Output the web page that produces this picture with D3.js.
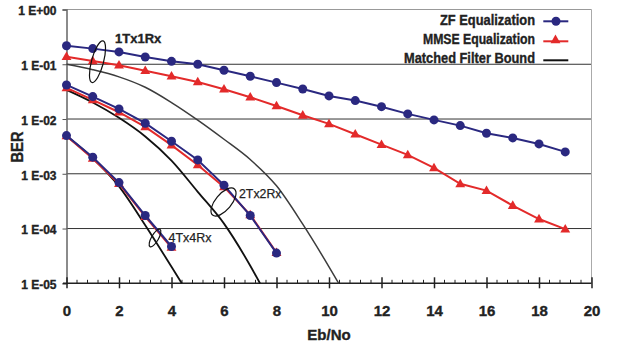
<!DOCTYPE html>
<html><head><meta charset="utf-8">
<script src="https://cdn.jsdelivr.net/npm/d3@7"></script>
<style>
html,body{margin:0;padding:0;background:#fff;}
svg{display:block;font-family:"Liberation Sans",Arial,sans-serif;}
</style></head>
<body>
<svg id="chart" width="617" height="347"></svg>
<script>
// ---------------- data ----------------
const ebno1 = [0,1,2,3,4,5,6,7,8,9,10,11,12,13,14,15,16,17,18,19];
const zf1 = [0.218,0.193,0.168,0.136,0.113,0.100,0.0778,0.0604,0.0462,0.0354,0.0264,0.0217,0.0168,0.0124,0.00964,0.00758,0.00551,0.00452,0.00351,0.00251];
const mmse1 = [0.1376,0.115,0.0959,0.0764,0.0604,0.0475,0.035,0.025,0.0173,0.0117,0.00814,0.00528,0.00341,0.00221,0.00128,0.000655,0.000493,0.000263,0.000149,0.0000975];
const ebno2 = [0,1,2,3,4,5,6,7,8];
const zf2 = [0.0419,0.0257,0.0153,0.00838,0.00393,0.00179,0.00062,0.000173,0.0000356];
const mmse2 = [0.037,0.0223,0.0133,0.00718,0.00333,0.00145,0.000577,0.000178,0.0000363];
const ebno4 = [0,1,2,3,4];
const zf4 = [0.00498,0.00201,0.00069,0.000173,0.000047];
const mmse4 = [0.0049,0.0019,0.00066,0.000165,0.000045];
const mfbX1 = [0,1,2,3,4,5,6,7,8,9,10,10.37];
const mfb1 = [0.1,0.0794,0.0589,0.038,0.02,0.00955,0.00427,0.00182,0.000603,0.00012,0.00002,0.00001];
const mfbX2 = [0,1,2,3,4,5,6,7,7.37];
const mfb2 = [0.034,0.02,0.0105,0.0048,0.00174,0.000468,0.000123,0.0000209,0.00001];
const mfbX4 = [0,1,2,3,4,4.39];
const mfb4 = [0.0049,0.00192,0.00059,0.000115,0.00002,0.00001];
const yTicks = [1,1e-1,1e-2,1e-3,1e-4,1e-5];
const yTickLabels = ["1 E+00","1 E-01","1 E-02","1 E-03","1 E-04","1 E-05"];
const xTicks = [0,2,4,6,8,10,12,14,16,18,20];
const legendLabels = ["ZF Equalization","MMSE Equalization","Matched Filter Bound"];
const groupLabels = ["1Tx1Rx","2Tx2Rx","4Tx4Rx"];

// ---------------- drawing ----------------
const svg = d3.select("#chart");
const x = d3.scaleLinear().domain([0,20]).range([66.5,591.5]);
const y = d3.scaleLog().domain([1e-5,1]).range([283.3,9.5]);
const ZF = "#2a2880", MM = "#e32a2a", TXT = "#222";
function heavy(sel){ return sel.attr("fill",TXT).attr("stroke",TXT).attr("stroke-width",0.35); }

// grid lines
svg.append("g").selectAll("line").data(yTicks.slice(1,5)).join("line")
  .attr("x1",x(0)).attr("x2",x(20)).attr("y1",d=>y(d)).attr("y2",d=>y(d))
  .attr("stroke","#333").attr("stroke-width",1);
// top and right border
svg.append("line").attr("x1",x(0)).attr("x2",x(20)).attr("y1",y(1)).attr("y2",y(1)).attr("stroke","#999").attr("stroke-width",1);
svg.append("line").attr("x1",x(20)).attr("x2",x(20)).attr("y1",y(1)).attr("y2",y(1e-5)).attr("stroke","#aaa").attr("stroke-width",1);

// left axis
const yAxis = d3.axisLeft(y).tickValues(yTicks).tickSize(4).tickFormat((d,i)=>yTickLabels[i]);
const ga = svg.append("g").attr("transform",`translate(${x(0)},0)`).call(yAxis);
ga.select(".domain").attr("stroke","#666").attr("stroke-width",1.5);
ga.selectAll(".tick line").attr("stroke","#555");
heavy(ga.selectAll("text").attr("x",-10).attr("dy","0.45em").attr("font-size",12).attr("font-weight","bold")
  .attr("font-family","Liberation Sans, Arial, sans-serif"));

// bottom axis: minor ticks then major
const minor = d3.range(0,20.01,0.4).filter(v=>Math.abs(v/2-Math.round(v/2))>1e-6);
svg.append("g").selectAll("line").data(minor).join("line")
  .attr("x1",d=>x(d)).attr("x2",d=>x(d)).attr("y1",y(1e-5)-3.5).attr("y2",y(1e-5))
  .attr("stroke","#222").attr("stroke-width",1);
const xAxis = d3.axisBottom(x).tickValues(xTicks).tickSize(5).tickFormat(d3.format("d"));
const gx = svg.append("g").attr("transform",`translate(0,${y(1e-5)})`).call(xAxis);
gx.select(".domain").attr("d",`M${x(0)-3.5},0H${x(20)}`).attr("stroke","#222").attr("stroke-width",1.5);
gx.selectAll(".tick line").attr("y1",-6).attr("y2",5).attr("stroke","#222").attr("stroke-width",1.5);
heavy(gx.selectAll("text").attr("y",22).attr("font-size",15).attr("font-weight","bold")
  .attr("font-family","Liberation Sans, Arial, sans-serif"));

// axis titles
heavy(svg.append("text").attr("x",329).attr("y",340).attr("text-anchor","middle")
  .attr("font-size",15).attr("font-weight","bold").text("Eb/No"));
heavy(svg.append("text").attr("transform","translate(23,147) rotate(-90)").attr("text-anchor","middle")
  .attr("font-size",16).attr("font-weight","bold")
  .attr("textLength",31).attr("lengthAdjust","spacingAndGlyphs").text("BER"));

// lines
const line = d3.line().x(d=>x(d[0])).y(d=>y(d[1]));
const curve = d3.line().x(d=>x(d[0])).y(d=>y(d[1])).curve(d3.curveMonotoneX);
const plot = svg.append("g");
function mfb(xs,vs,color,w){
  plot.append("path").attr("d",curve(xs.map((v,i)=>[v,vs[i]]))).attr("fill","none")
    .attr("stroke",color).attr("stroke-width",w);
}
mfb(mfbX1,mfb1,"#3c3c3c",1.5);
mfb(mfbX2,mfb2,"#111",1.8);
mfb(mfbX4,mfb4,"#111",1.8);

const tri = d3.symbol().type(d3.symbolTriangle).size(42);
function series(xs,vs,color,kind){
  const pts = xs.map((v,i)=>[v,vs[i]]);
  plot.append("path").attr("d",line(pts)).attr("fill","none").attr("stroke",color).attr("stroke-width",2);
  if(kind==="c"){
    plot.append("g").selectAll("circle").data(pts).join("circle")
      .attr("cx",d=>x(d[0])).attr("cy",d=>y(d[1])).attr("r",4.5).attr("fill",color);
  } else {
    plot.append("g").selectAll("path").data(pts).join("path")
      .attr("d",tri).attr("transform",d=>`translate(${x(d[0])},${y(d[1])+0.5})`).attr("fill",color);
  }
}
series(ebno1,mmse1,MM,"t");
series(ebno2,mmse2,MM,"t");
series(ebno4,mmse4,MM,"t");
series(ebno1,zf1,ZF,"c");
series(ebno2,zf2,ZF,"c");
series(ebno4,zf4,ZF,"c");

// group annotations
const ann = svg.append("g").attr("fill","none").attr("stroke","#111").attr("stroke-width",1.2);
ann.append("ellipse").attr("rx",6).attr("ry",21.5).attr("transform","translate(97.5,61.7) rotate(15)");
ann.append("ellipse").attr("rx",8).attr("ry",17).attr("transform","translate(223.5,202) rotate(40)");
ann.append("ellipse").attr("rx",3.5).attr("ry",10).attr("transform","translate(155,238) rotate(30)");
heavy(svg.append("text").attr("x",115).attr("y",42.5).attr("font-size",13).attr("font-weight","bold").text(groupLabels[0]));
svg.append("text").attr("x",239).attr("y",198.3).attr("font-size",13.5).attr("fill",TXT).attr("stroke",TXT).attr("stroke-width",0.25)
  .attr("textLength",42.5).attr("lengthAdjust","spacingAndGlyphs").text(groupLabels[1]);
svg.append("text").attr("x",168.5).attr("y",241.7).attr("font-size",13.5).attr("fill",TXT).attr("stroke",TXT).attr("stroke-width",0.25)
  .attr("textLength",43).attr("lengthAdjust","spacingAndGlyphs").text(groupLabels[2]);

// legend
const lg = svg.append("g");
const lgY = [21.3,41.3,60.3];
const lgBase = [24.7,44,62.5];
const lgW = [95,112,131];
legendLabels.forEach((t,i)=>{
  heavy(lg.append("text").attr("x",535).attr("y",lgBase[i]).attr("text-anchor","end")
    .attr("font-size",14).attr("font-weight","bold")
    .attr("textLength",lgW[i]).attr("lengthAdjust","spacingAndGlyphs").text(t));
});
lg.append("line").attr("x1",543.3).attr("x2",568.3).attr("y1",lgY[0]).attr("y2",lgY[0]).attr("stroke",ZF).attr("stroke-width",2);
lg.append("circle").attr("cx",556).attr("cy",lgY[0]).attr("r",4.5).attr("fill",ZF);
lg.append("line").attr("x1",543.3).attr("x2",568.3).attr("y1",lgY[1]).attr("y2",lgY[1]).attr("stroke",MM).attr("stroke-width",2);
lg.append("path").attr("d",tri).attr("transform",`translate(555.5,${lgY[1]-1})`).attr("fill",MM);
lg.append("line").attr("x1",543.3).attr("x2",568.3).attr("y1",lgY[2]).attr("y2",lgY[2]).attr("stroke","#111").attr("stroke-width",2);
</script>
</body></html>
